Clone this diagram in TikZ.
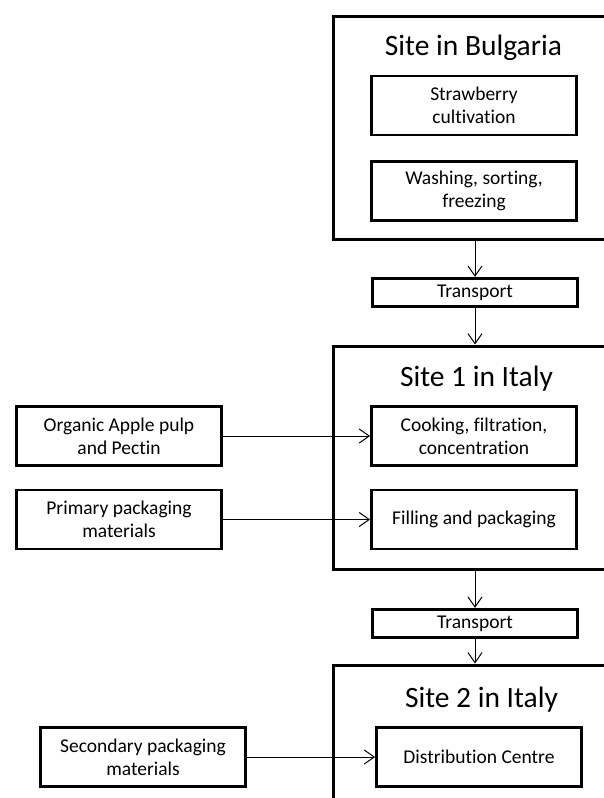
\documentclass[tikz,border=0pt]{standalone}
\usepackage{fontspec}
\setmainfont{Carlito}[Ligatures=NoCommon]
\usetikzlibrary{arrows.meta}
\begin{document}
\begin{tikzpicture}[x=1pt,y=-1pt,
  box/.style={draw=black, line width=2.8pt, minimum width=205pt, minimum height=59pt, align=center, inner sep=0pt, font=\fontsize{19.5}{23}\selectfont},
  tbox/.style={box, minimum height=28.5pt},
  site/.style={draw=black, line width=3pt, inner sep=0pt},
  title/.style={anchor=base, inner sep=0pt, font=\fontsize{29.5}{34}\selectfont},
  arr/.style={line width=1pt, -{Straight Barb[length=10pt,width=14pt]}}]
\useasboundingbox (0,0) rectangle (604,798);
\clip (0,0) rectangle (604,798);
% container sites
\node[site, minimum width=290pt, minimum height=223pt] (bul) at (478,127.5) {};
\node[site, minimum width=290pt, minimum height=223pt] (it1) at (478,457.5) {};
\node[site, minimum width=290pt, minimum height=160pt] (it2) at (478,745) {};
\node[title] (tbul) at (473.5,55) {Site in Bulgaria};
\node[title] (tit1) at (476.5,386) {Site 1 in Italy};
\node[title] (tit2) at (481.5,707) {Site 2 in Italy};
% inner boxes
\node[box] (straw) at (474,105.5) {Strawberry\\cultivation};
\node[box] (wash) at (474,191) {Washing, sorting,\\freezing};
\node[tbox] (tr1) at (475,292.5) {Transport};
\node[box] (cook) at (474,436) {Cooking, filtration,\\concentration};
\node[box] (fill) at (474,519.5) {Filling and packaging};
\node[tbox] (tr2) at (475,623.5) {Transport};
\node[box] (dist) at (479,757) {Distribution Centre};
% inputs
\node[box] (org) at (119,436) {Organic Apple pulp\\and Pectin};
\node[box] (prim) at (119,519.5) {Primary packaging\\materials};
\node[box] (sec) at (143,757) {Secondary packaging\\materials};
% connectors
\draw[arr] (tr1.north |- bul.south) -- (tr1.north);
\draw[arr] (tr1.south) -- (tr1.south |- it1.north);
\draw[arr] (tr2.north |- it1.south) -- (tr2.north);
\draw[arr] (tr2.south) -- (tr2.south |- it2.north);
\draw[arr] (org.east) -- (cook.west);
\draw[arr] (prim.east) -- (fill.west);
\draw[arr] (sec.east) -- (dist.west);
\end{tikzpicture}
\end{document}
